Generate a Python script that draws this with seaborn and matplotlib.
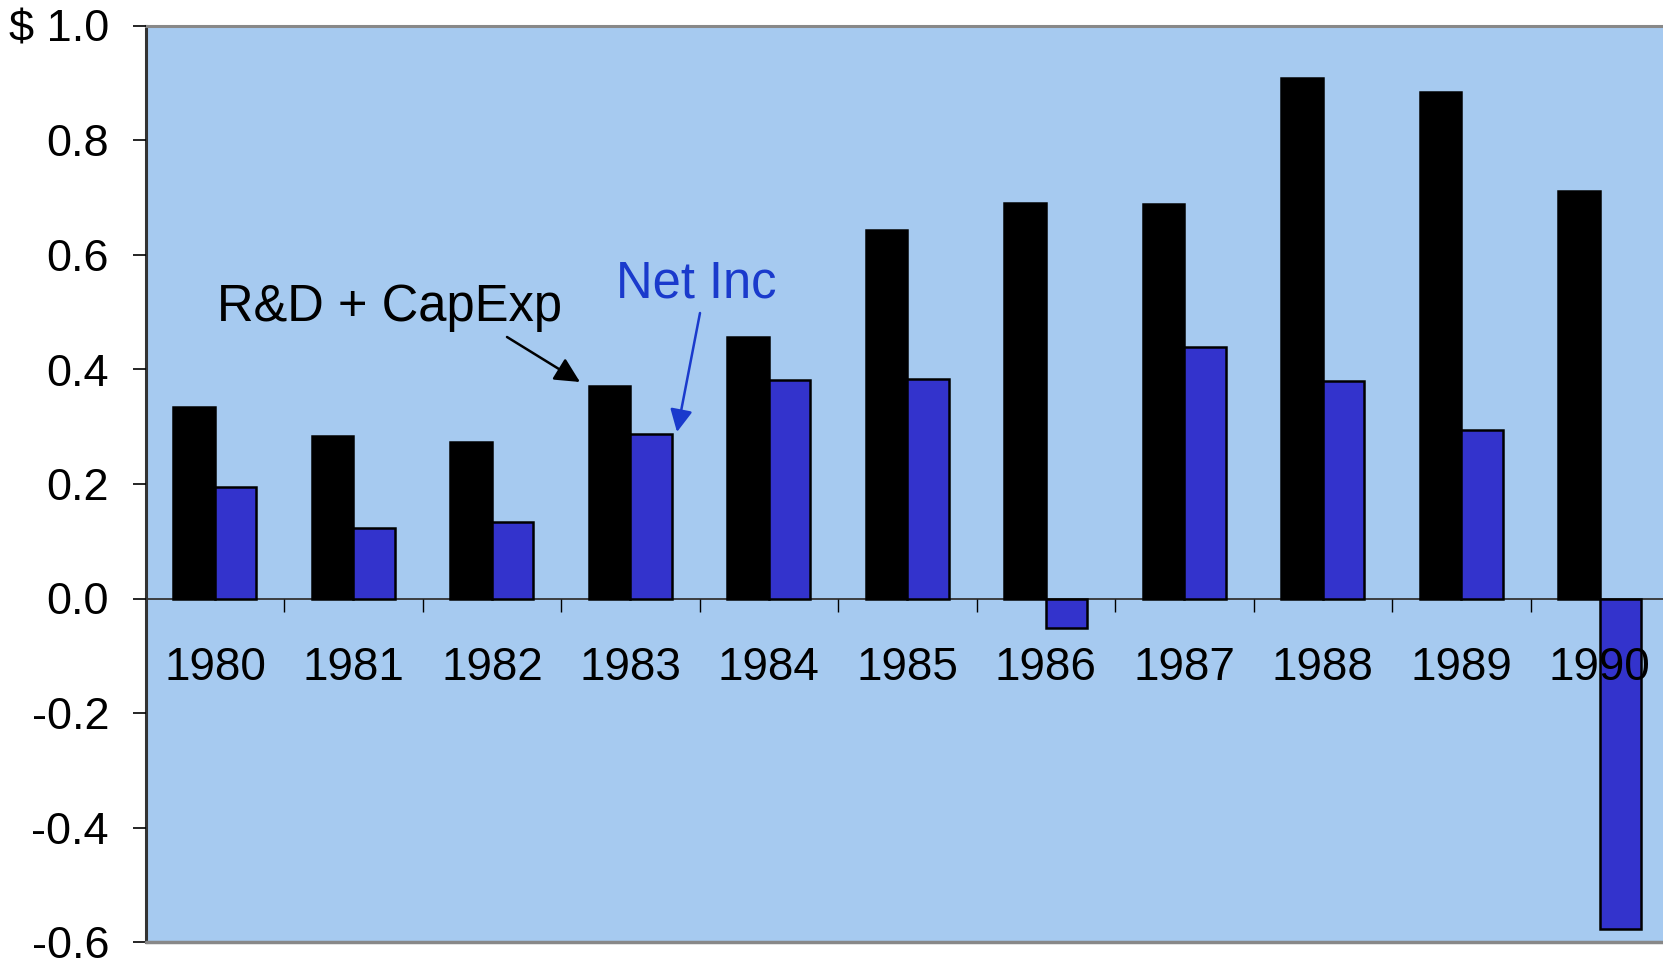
import numpy as np
import pandas as pd
import matplotlib
matplotlib.use("Agg")
import matplotlib.pyplot as plt
import seaborn as sns

years = ["1980", "1981", "1982", "1983", "1984", "1985", "1986", "1987", "1988", "1989", "1990"]
rd_capexp = [0.335, 0.283, 0.274, 0.372, 0.456, 0.643, 0.691, 0.689, 0.909, 0.885, 0.711]
net_inc = [0.194, 0.124, 0.133, 0.287, 0.381, 0.383, -0.052, 0.439, 0.380, 0.294, -0.578]
series_names = ["R&D + CapExp", "Net Inc"]
y_ticks = [-0.6, -0.4, -0.2, 0.0, 0.2, 0.4, 0.6, 0.8, 1.0]
y_tick_labels = ["-0.6", "-0.4", "-0.2", "0.0", "0.2", "0.4", "0.6", "0.8", "$ 1.0"]

df = pd.DataFrame({
    "year": years * 2,
    "series": [series_names[0]] * len(years) + [series_names[1]] * len(years),
    "value": rd_capexp + net_inc,
})

sns.set_style("white")
plt.rcParams["font.family"] = ["Liberation Sans", "DejaVu Sans"]

W, H = 1663, 963
fig = plt.figure(figsize=(W / 100, H / 100), dpi=100)
left, right, top, bottom = 145.7, 1669.0, 26.0, 942.0
ax = fig.add_axes([left / W, (H - bottom) / H, (right - left) / W, (bottom - top) / H])
ax.set_facecolor("#A6CAF0")

ax.axhline(0, color="#333333", lw=1.3, zorder=0.5)

sns.barplot(data=df, x="year", y="value", hue="series", order=years,
            hue_order=series_names, palette=["black", "#3333CC"],
            width=0.6, edgecolor="black", linewidth=1.8, ax=ax, legend=False,
            errorbar=None, saturation=1)

ax.set_xlim(-0.5, len(years) - 0.5)
ax.set_ylim(-0.6, 1.0)
ax.set_xlabel("")
ax.set_ylabel("")

ax.set_yticks(y_ticks)
ax.set_yticklabels(y_tick_labels, fontsize=32.5, color="black")
ax.tick_params(axis="y", direction="out", length=9.4, width=1.2, color="black", pad=17, left=True)

# x axis at zero
ax.spines["bottom"].set_position(("data", 0))
ax.spines["bottom"].set_visible(False)
ax.set_xticks(range(len(years)))
ax.set_xticklabels(years, fontsize=33, color="black")
ax.tick_params(axis="x", which="major", length=0, pad=34.5, bottom=True)
ax.set_xticks(np.arange(0.5, len(years) - 0.5, 1), minor=True)
ax.tick_params(axis="x", which="minor", direction="out", length=9.4, width=1.0, color="black", bottom=True)
ax.set_axisbelow(False)

for side in ["top", "right"]:
    ax.spines[side].set_color("#888888")
    ax.spines[side].set_linewidth(2.2)
ax.spines["left"].set_color("#333333")
ax.spines["left"].set_linewidth(2.2)
ax.axhline(-0.6, color="#888888", lw=2.5, clip_on=False, zorder=5)

def to_data(px, py):
    xd = -0.5 + (px - left) / (right - left) * len(years)
    yd = 1.0 - (py - top) / (bottom - top) * 1.6
    return xd, yd

ax.text(*to_data(217, 321), series_names[0], fontsize=36.5, color="black", ha="left", va="baseline")
ax.text(*to_data(616, 298), series_names[1], fontsize=36.5, color="#1A3ACC", ha="left", va="baseline")

ax.annotate("", xy=to_data(580, 382), xytext=to_data(507, 337),
            arrowprops=dict(arrowstyle="-|>", color="black", lw=1.8, mutation_scale=38,
                            shrinkA=0, shrinkB=0))
ax.annotate("", xy=to_data(677, 432), xytext=to_data(700, 313),
            arrowprops=dict(arrowstyle="-|>", color="#1A3ACC", lw=1.8, mutation_scale=34,
                            shrinkA=0, shrinkB=0))

fig.savefig("out.png", dpi=100)
